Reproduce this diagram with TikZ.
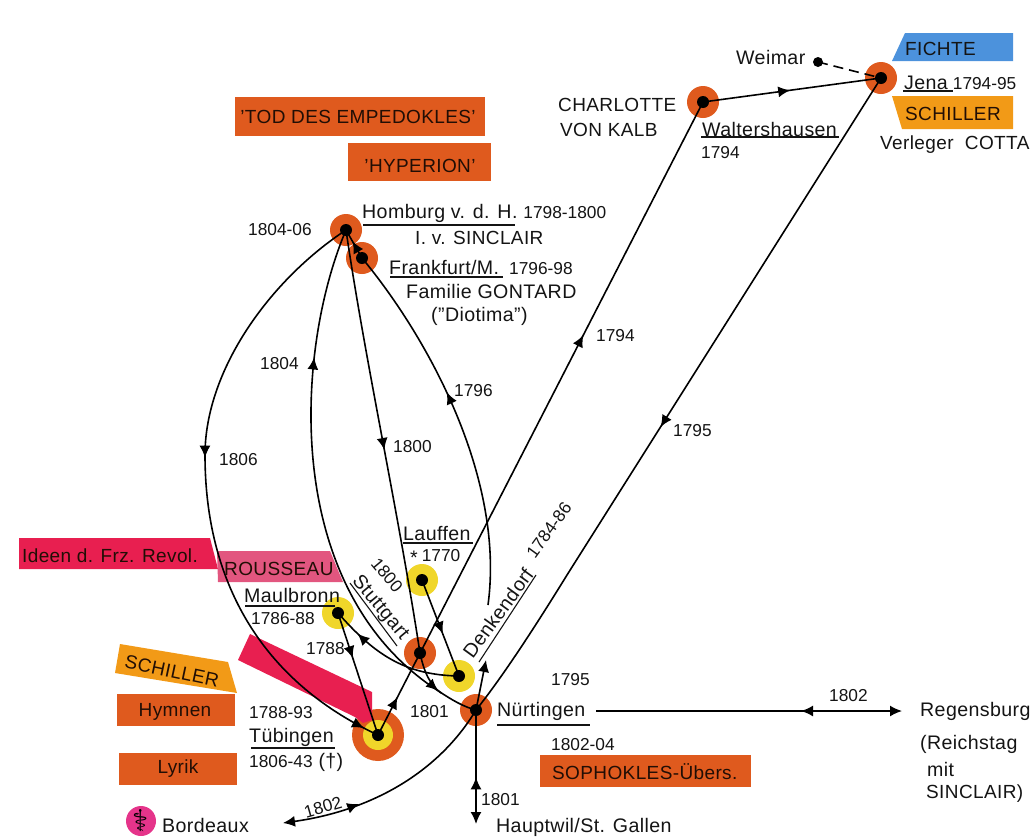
\documentclass[tikz,border=0pt]{standalone}
\usepackage{fontspec}
\setmainfont[LetterSpace=2]{Liberation Sans}
\newfontfamily\numfam{Liberation Sans}
\newcommand{\nmr}[1]{{\numfam\fontsize{17.3}{21}\selectfont #1}}
\usetikzlibrary{arrows.meta,decorations.markings}
\definecolor{brick}{HTML}{DF5A1E}
\definecolor{amberc}{HTML}{F29A17}
\definecolor{skyc}{HTML}{4C92DC}
\definecolor{redc}{HTML}{E81F50}
\definecolor{rosec}{HTML}{E2567F}
\definecolor{yell}{HTML}{F0D62A}
\definecolor{magc}{HTML}{E5348A}
\definecolor{inkc}{HTML}{141414}
\tikzset{
  lab/.style={font=\fontsize{19.6}{23}\selectfont,text=inkc,inner sep=0pt,align=left},
  capl/.style={font=\fontsize{19}{23}\selectfont,text=inkc,inner sep=0pt,align=left},
  tag/.style={font=\fontsize{19}{23}\selectfont,text=black!85!brick,inner sep=0pt},
  dot/.style={circle,fill=black,inner sep=0pt,minimum size=12pt},
  halo/.style={circle,inner sep=0pt,minimum size=32pt},
  ul/.style={line width=1.1pt,draw=inkc},
  con/.style={line width=1.6pt,draw=black},
  tip/.style={-{Latex[length=12pt,width=11pt]}},
  midtip/.style={postaction={decorate,decoration={markings,mark=at position #1 with {\arrow{Latex[length=12pt,width=11pt]}}}}},
  backtip/.style={postaction={decorate,decoration={markings,mark=at position #1 with {\arrowreversed{Latex[length=12pt,width=11pt]}}}}}
}
\begin{document}
\begin{tikzpicture}[x=1pt,y=-1pt]
\useasboundingbox (0,0) rectangle (1035,839);
% coloured labels
\fill[redc] (19,538) -- (210,538) -- (218,569) -- (19,569) -- cycle;
\fill[rosec] (217,551) -- (330,551) -- (343,582) -- (218,582) -- cycle;
\fill[amberc] (120,644) -- (228,662) -- (237,693) -- (115,673) -- cycle;
\fill[brick] (117,694) rectangle (235,726);
\fill[brick] (119,753) rectangle (237,785);
\fill[brick] (235,97) rectangle (485,136);
\fill[brick] (348,143) rectangle (491,181);
\fill[brick] (540,755) rectangle (751,787);
\fill[skyc] (905,33) -- (1013,33) -- (1013,61) -- (892,61) -- cycle;
\fill[amberc] (892,96) -- (1013,96) -- (1013,129) -- (902,129) -- cycle;
% halos
\node[halo,fill=brick] (hJena) at (881,78) {};
\node[halo,fill=brick] (hWalt) at (703,102) {};
\node[halo,fill=brick] (hHomb) at (346,230) {};
\node[halo,fill=brick] (hFran) at (362,258) {};
\node[halo,fill=yell] (hLauf) at (422,580) {};
\node[halo,fill=yell] (hMaul) at (338,613) {};
\node[halo,fill=brick] (hStut) at (420,653) {};
\node[halo,fill=yell] (hDenk) at (459,676) {};
\node[halo,fill=brick] (hNuer) at (476,710) {};
\node[circle,fill=brick,inner sep=0,minimum size=52pt] (hTueb) at (378,735) {};
\fill[redc] (250,634) -- (372,692) -- (372,720) -- (363,723) -- (355,717) -- (238,660) -- cycle;
\node[circle,fill=yell,inner sep=0,minimum size=30pt] (hTueb2) at (378,735) {};
\node[circle,fill=magc,inner sep=0,minimum size=30pt] (hBord) at (141,821) {};
% dots
\node[dot,minimum size=10pt] (weimar) at (818,62) {};
\node[dot] (jena) at (881,78) {};
\node[dot] (walt) at (703,102) {};
\node[dot] (homb) at (346,230) {};
\node[dot] (fran) at (362,258) {};
\node[dot] (lauf) at (422,580) {};
\node[dot] (maul) at (338,613) {};
\node[dot] (stut) at (420,653) {};
\node[dot] (denk) at (459,676) {};
\node[dot] (nuer) at (476,710) {};
\node[dot] (tueb) at (378,735) {};
% free ends
\coordinate (bord) at (283,823);
\coordinate (haupt) at (476,824);
\coordinate (denkUp) at (486,660);
\coordinate (regA) at (596,711);
\coordinate (regB) at (902,711);
\coordinate (diotEnd) at (488,605);
% connectors
\draw[con,midtip=0.06,midtip=0.632] (tueb.center) -- (walt.center);
\draw[con,midtip=0.49] (walt.center) -- (jena.center);
\draw[con,dash pattern=on 10pt off 6pt] (weimar.center) -- (jena.center);
\draw[con,midtip=0.55] (jena.center) -- (567,575) .. controls (530,635) and (500,680) .. (nuer.center);
\draw[con,tip,backtip=0.66] (nuer.center) .. controls (440,770) and (375,810) .. (bord);
\draw[con,tip] (nuer.center) -- (denkUp);
\draw[con,tip,backtip=0.59] (nuer.center) -- (haupt);
\draw[con,tip,backtip=0.67] (regA) -- (regB);
\draw[con,midtip=0.445,midtip=0.975] (homb.center) .. controls (270,280) and (205,370) .. (205,455) .. controls (205,580) and (260,680) .. (tueb.center);
\draw[con,backtip=0.24] (homb.center) .. controls (295,350) and (280,590) .. (440,692) .. controls (452,700) and (464,707) .. (nuer.center);
\draw[con,midtip=0.52] (homb.center) .. controls (365,360) and (398,510) .. (stut.center);
\draw[con,backtip=0.42] (fran.center) .. controls (430,340) and (505,480) .. (diotEnd);
\draw[con,midtip=0.6] (fran.center) -- (homb.center);
\draw[con,midtip=0.56] (lauf.center) -- (denk.center);
\draw[con,midtip=0.37] (maul.center) -- (tueb.center);
\draw[con,midtip=0.8] (denk.center) .. controls (405,675) and (375,655) .. (maul.center);
\draw[con,midtip=0.92] (stut.center) .. controls (424,672) and (430,685) .. (441,693);
% texts
\node[lab,anchor=west] (tWeimar) at (736,57) {Weimar};
\node[capl,anchor=west] (tFichte) at (905,49) {FICHTE};
\node[lab,anchor=west] (tJena) at (904,83) {Jena\hspace{5pt}\nmr{1794-95}};
\node[tag,anchor=west] (tSchiller) at (905,114) {SCHILLER};
\node[capl,anchor=west] (tCotta) at (880,145) {Verleger\ \ COTTA};
\node[capl,anchor=west] (tCharl) at (558,105) {CHARLOTTE};
\node[capl,anchor=west] (tKalb) at (560,130) {VON KALB};
\node[lab,anchor=west] (tWalt) at (702,129) {Waltershausen};
\node[lab,anchor=west] (tW94) at (701,153) {\nmr{1794}};
\node[tag] (tTod) at (358,117) {'TOD DES EMPEDOKLES'};
\node[tag] (tHyp) at (420,166) {'HYPERION'};
\node[lab,anchor=west] (tHomb) at (362,213) {Homburg v. d. H.\hspace{6pt}\nmr{1798-1800}};
\node[capl,anchor=west] (tSinc) at (415,238) {I. v. SINCLAIR};
\node[lab,anchor=west] (tFran) at (389,267) {Frankfurt/M.\hspace{10pt}\nmr{1796-98}};
\node[lab,anchor=west] (tGont) at (406,291) {Familie GONTARD};
\node[lab,anchor=west] (tDiot) at (431,316) {("Diotima")};
\node[lab,anchor=west] (t0406) at (248,230) {\nmr{1804-06}};
\node[lab,anchor=west] (t1794) at (596,336) {\nmr{1794}};
\node[lab,anchor=west] (t1795a) at (673,431) {\nmr{1795}};
\node[lab,anchor=west] (t1804) at (260,364) {\nmr{1804}};
\node[lab,anchor=west] (t1796) at (454,391) {\nmr{1796}};
\node[lab,anchor=west] (t1800) at (393,447) {\nmr{1800}};
\node[lab,anchor=west] (t1806) at (219,460) {\nmr{1806}};
\node[lab,anchor=west] (tLauf) at (403,533) {Lauffen};
\node[lab,anchor=west] (tL70) at (410,557) {\raisebox{-3pt}{*}\hspace{4pt}\nmr{1770}};
\node[tag,anchor=west] (tIdeen) at (22,556) {Ideen d. Frz. Revol.};
\node[tag,anchor=west] (tRous) at (224,569) {ROUSSEAU};
\node[lab,anchor=west] (tMaul) at (244,595) {Maulbronn};
\node[lab,anchor=west] (tM88) at (251,619) {\nmr{1786-88}};
\node[lab,anchor=west] (t1788) at (306,649) {\nmr{1788}};
\node[tag,rotate=-12] (tSch2) at (172,671) {SCHILLER};
\node[tag] (tHym) at (175,712) {Hymnen};
\node[tag] (tLyr) at (178,769) {Lyrik};
\node[lab,anchor=west] (tT88) at (249,713) {\nmr{1788-93}};
\node[lab,anchor=west] (tTueb) at (249,737) {Tübingen};
\node[lab,anchor=west] (tT06) at (249,762) {\nmr{1806-43} (\char"2020)};
\node[lab,rotate=-50] (tStut) at (380,608) {Stuttgart};
\node[lab,rotate=-50] (tS00) at (387,575) {\nmr{1800}};
\node[lab,rotate=54] (tDenk) at (498,613) {Denkendorf};
\node[lab,rotate=54] (tDenkY) at (549,530) {\nmr{1784-86}};
\node[lab,anchor=west] (t1801a) at (410,712) {\nmr{1801}};
\node[lab,anchor=west] (t1795b) at (551,680) {\nmr{1795}};
\node[lab,anchor=west] (tNuer) at (497,711) {Nürtingen};
\node[lab,anchor=west] (t0204) at (551,745) {\nmr{1802-04}};
\node[tag,anchor=west] (tSoph) at (552,772) {SOPHOKLES-Übers.};
\node[lab,anchor=west] (t1802a) at (829,696) {\nmr{1802}};
\node[lab,anchor=west] (tReg) at (920,711) {Regensburg};
\node[lab,anchor=west] (tReich) at (920,744) {(Reichstag};
\node[lab,anchor=west] (tMit) at (927,769) {mit};
\node[capl,anchor=west] (tSinc2) at (926,794) {SINCLAIR)};
\node[lab,anchor=west] (t1801b) at (481,800) {\nmr{1801}};
\node[lab,anchor=west] (tHaupt) at (496,827) {Hauptwil/St. Gallen};
\node[lab,anchor=west] (tBord) at (162,825) {Bordeaux};
\node[lab,rotate=16] (t1802b) at (323,807) {\nmr{1802}};
\node[font=\fontspec{DejaVu Sans}\fontsize{30}{30}\selectfont,inner sep=0pt] (tAsk) at (141,821) {\char"2695};
% underlines
\draw[ul] (363,225) -- (515,225);
\draw[ul] (390,277) -- (503,277);
\draw[ul] (903,91) -- (953,91);
\draw[ul] (701,137) -- (839,137);
\draw[ul] (245,606) -- (335,606);
\draw[ul] (403,543) -- (473,543);
\draw[ul] (251,748) -- (335,748);
\draw[ul] (497,725) -- (590,725);
\draw[ul] (350,583) -- (397,646);
\draw[ul] (479,662) -- (536,575);
\end{tikzpicture}
\end{document}
